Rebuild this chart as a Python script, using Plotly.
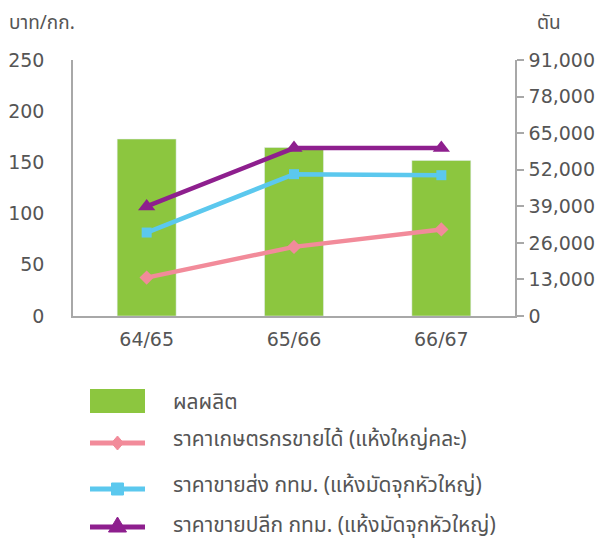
import plotly.graph_objects as go

categories = ["64/65", "65/66", "66/67"]
production_tons = [62900, 59900, 55300]
farm_price = [37.5, 67.5, 84.5]
wholesale_price = [81.5, 138.5, 137.5]
retail_price = [107, 164, 164]

left_ticks = [0, 50, 100, 150, 200, 250]
right_ticks = [0, 13000, 26000, 39000, 52000, 65000, 78000, 91000]

series_names = [
    "ผลผลิต",
    "ราคาเกษตรกรขายได้ (แห้งใหญ่คละ)",
    "ราคาขายส่ง กทม. (แห้งมัดจุกหัวใหญ่)",
    "ราคาขายปลีก กทม. (แห้งมัดจุกหัวใหญ่)",
]

GREEN = "#8cc63f"
PINK = "#f28b9a"
CYAN = "#5bc8ee"
PURPLE = "#8e1f8e"
AXIS = "#a8a8a8"
TEXT = "#555555"
NUMFONT = "DejaVu Sans, Liberation Sans, sans-serif"
THAIFONT = "Noto Sans Thai, Noto Sans, Liberation Sans, sans-serif"

W, H = 603, 543
L, R, T, B = 73, 515, 60, 316

fig = go.Figure()
fig.add_trace(go.Bar(x=categories, y=production_tons, marker_color=GREEN,
                     width=0.4, name=series_names[0], yaxis="y", showlegend=False))
fig.add_trace(go.Scatter(x=categories, y=farm_price, mode="lines+markers",
                         line=dict(color=PINK, width=4.5),
                         marker=dict(symbol="diamond", size=11, color=PINK),
                         name=series_names[1], yaxis="y2", showlegend=False))
fig.add_trace(go.Scatter(x=categories, y=wholesale_price, mode="lines+markers",
                         line=dict(color=CYAN, width=4.5),
                         marker=dict(symbol="square", size=10, color=CYAN),
                         name=series_names[2], yaxis="y2", showlegend=False))
fig.add_trace(go.Scatter(x=categories, y=retail_price, mode="lines+markers",
                         line=dict(color=PURPLE, width=4.5),
                         marker=dict(symbol="triangle-up", size=15, color=PURPLE),
                         name=series_names[3], yaxis="y2", showlegend=False))


def px(xp):
    return (xp - L) / (R - L)


def py(yp):
    return (B - yp) / (B - T)


shapes = []
annotations = []

# manual legend
sx0, sx1 = 90, 145
shapes.append(dict(type="rect", xref="paper", yref="paper",
                   x0=px(sx0), x1=px(sx1), y0=py(413), y1=py(389),
                   fillcolor=GREEN, line=dict(width=0)))
rows = [(443, PINK, "diamond"), (489, CYAN, "square"), (527, PURPLE, "triangle")]
for yc, col, sym in rows:
    shapes.append(dict(type="line", xref="paper", yref="paper",
                       x0=px(sx0), x1=px(sx1), y0=py(yc), y1=py(yc),
                       line=dict(color=col, width=5)))
    cx = (sx0 + sx1) / 2
    if sym == "diamond":
        pts = [(cx, yc - 7), (cx + 6, yc), (cx, yc + 7), (cx - 6, yc)]
    elif sym == "square":
        pts = [(cx - 6, yc - 6), (cx + 6, yc - 6), (cx + 6, yc + 6), (cx - 6, yc + 6)]
    else:
        pts = [(cx, yc - 10), (cx + 9, yc + 5), (cx - 9, yc + 5)]
    path = "M " + " L ".join(f"{px(a):.5f},{py(b):.5f}" for a, b in pts) + " Z"
    shapes.append(dict(type="path", xref="paper", yref="paper", path=path,
                       fillcolor=col, line=dict(color=col, width=1)))

text_rows = [402, 439, 485, 525]
for name, yc in zip(series_names, text_rows):
    annotations.append(dict(text=name, xref="paper", yref="paper",
                            x=px(171), y=py(yc), xanchor="left", yanchor="middle",
                            showarrow=False, font=dict(size=21, color=TEXT, family=THAIFONT)))

annotations.append(dict(text="บาท/กก.", xref="paper", yref="paper",
                        x=px(7), y=py(23), xanchor="left", yanchor="middle",
                        showarrow=False, font=dict(size=19, color=TEXT, family=THAIFONT)))
annotations.append(dict(text="ตัน", xref="paper", yref="paper",
                        x=px(535), y=py(23), xanchor="left", yanchor="middle",
                        showarrow=False, font=dict(size=19, color=TEXT, family=THAIFONT)))

fig.update_layout(
    width=W, height=H,
    margin=dict(l=L, r=W - R, t=T, b=H - B, pad=0, autoexpand=False),
    paper_bgcolor="white", plot_bgcolor="white",
    showlegend=False,
    bargap=0.6,
    font=dict(family=NUMFONT, size=19, color=TEXT),
    xaxis=dict(type="category", showline=True, linecolor=AXIS, linewidth=1.5,
               showgrid=False, ticks="", ticklabelstandoff=5, automargin=False,
               tickfont=dict(size=19, color=TEXT, family=NUMFONT)),
    yaxis=dict(side="right", range=[0, 91000], tickvals=right_ticks,
               tickformat=",d", showline=True, linecolor=AXIS, linewidth=1.5,
               ticks="outside", ticklen=7, tickcolor=AXIS, tickwidth=1.5,
               showgrid=False, zeroline=False, ticklabelstandoff=1, automargin=False,
               tickfont=dict(size=19, color=TEXT, family=NUMFONT)),
    yaxis2=dict(side="left", overlaying="y", range=[0, 250], tickvals=left_ticks,
                showline=True, linecolor=AXIS, linewidth=1.5, ticks="",
                showgrid=False, zeroline=False, ticklabelstandoff=23, automargin=False,
                tickfont=dict(size=19, color=TEXT, family=NUMFONT)),
    shapes=shapes,
    annotations=annotations,
)

fig.write_html("out.html",
               config={"displayModeBar": False},
               post_script="document.body.style.margin='0';document.body.style.overflow='hidden';")
